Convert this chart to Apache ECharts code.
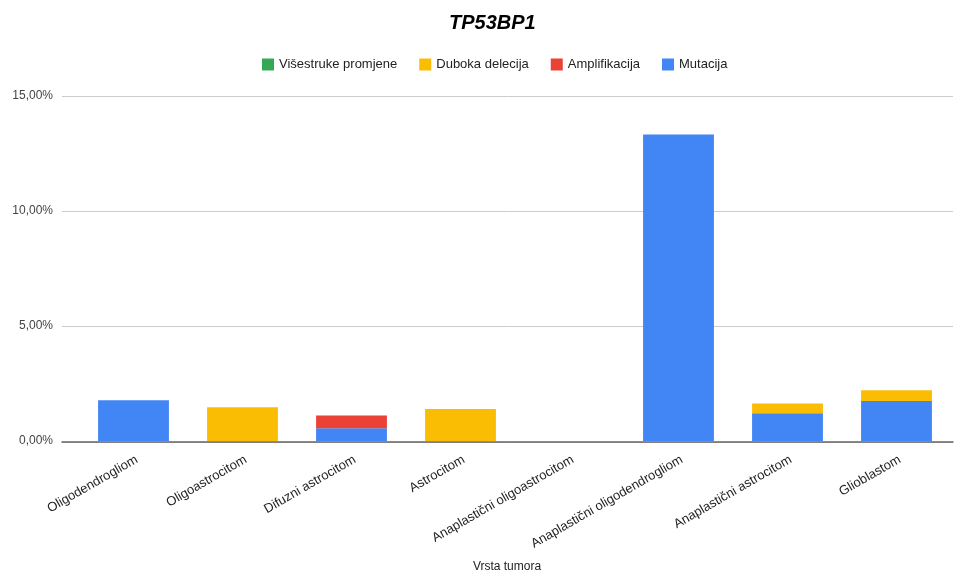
<!DOCTYPE html>
<html>
<head>
<meta charset="utf-8">
<script src="https://cdn.jsdelivr.net/npm/echarts@6/dist/echarts.min.js"></script>
<style>html,body{margin:0;padding:0;background:#fff}#c{width:957px;height:578px}</style>
</head>
<body>
<div id="c"></div>
<script>
const categories = ["Oligodendrogliom","Oligoastrocitom","Difuzni astrocitom","Astrocitom","Anaplastični oligoastrocitom","Anaplastični oligodendrogliom","Anaplastični astrocitom","Glioblastom"];
const mutacija = [1.77, 0, 0.55, 0, 0, 13.33, 1.21, 1.74];
const amplifikacija = [0, 0, 0.56, 0, 0, 0, 0, 0];
const dubokaDelecija = [0, 1.47, 0, 1.39, 0, 0, 0.42, 0.47];
const visestruke = [0, 0, 0, 0, 0, 0, 0, 0];
const yTicks = [0, 5, 10, 15];

const font = "Arial, 'Liberation Sans', sans-serif";
const chart = echarts.init(document.getElementById('c'));
function fmt(v){ return v.toFixed(2).replace('.', ',') + '%'; }
const barW = '65%';
const yMin = yTicks[0], yMax = yTicks[yTicks.length-1];
chart.setOption({
  animation: false,
  title: {
    text: 'TP53BP1', left: 444, top: 8,
    textStyle: { fontFamily: font, fontSize: 20, fontWeight: 'bold', fontStyle: 'italic', color: '#000' }
  },
  legend: {
    data: ['Višestruke promjene','Duboka delecija','Amplifikacija','Mutacija'],
    top: 53, left: 257, itemWidth: 12, itemHeight: 12, itemGap: 22,
    icon: 'rect',
    textStyle: { fontFamily: font, fontSize: 13, color: '#222' }
  },
  grid: [
    { left: 79, right: 6, top: 96, bottom: 135, containLabel: false },
    { left: 62, right: 4, top: 96, bottom: 136, containLabel: false }
  ],
  xAxis: [{
    type: 'category', data: categories,
    name: 'Vrsta tumora', nameLocation: 'middle', nameGap: 120,
    nameTextStyle: { fontFamily: font, fontSize: 12, color: '#222', padding: [0, 16, 0, 0] },
    axisLine: { show: false },
    axisTick: { show: false },
    axisLabel: { rotate: 30, interval: 0, margin: 12, verticalAlign: 'top', fontFamily: font, fontSize: 13, color: '#222' }
  }, {
    gridIndex: 1, type: 'category', data: categories, z: 10,
    axisLine: { lineStyle: { color: '#666', width: 1.5 } },
    axisTick: { show: false }, axisLabel: { show: false }
  }],
  yAxis: [{
    type: 'value', min: yMin, max: yMax, interval: 5,
    axisLine: { show: false }, axisTick: { show: false },
    axisLabel: { formatter: fmt, fontFamily: font, fontSize: 12, color: '#444', margin: 26 },
    splitLine: { show: false }
  }, {
    gridIndex: 1, type: 'value', min: yMin, max: yMax, interval: 5,
    axisLine: { show: false }, axisTick: { show: false }, axisLabel: { show: false },
    splitLine: { lineStyle: { color: '#ccc' } }
  }],
  series: [
    { name: 'Mutacija', type: 'bar', stack: 's', data: mutacija, barWidth: barW, itemStyle: { color: '#4285f4' } },
    { name: 'Amplifikacija', type: 'bar', stack: 's', data: amplifikacija, itemStyle: { color: '#ea4335' } },
    { name: 'Duboka delecija', type: 'bar', stack: 's', data: dubokaDelecija, itemStyle: { color: '#fbbc04' } },
    { name: 'Višestruke promjene', type: 'bar', stack: 's', data: visestruke, itemStyle: { color: '#34a853' } }
  ]
});
</script>
</body>
</html>
